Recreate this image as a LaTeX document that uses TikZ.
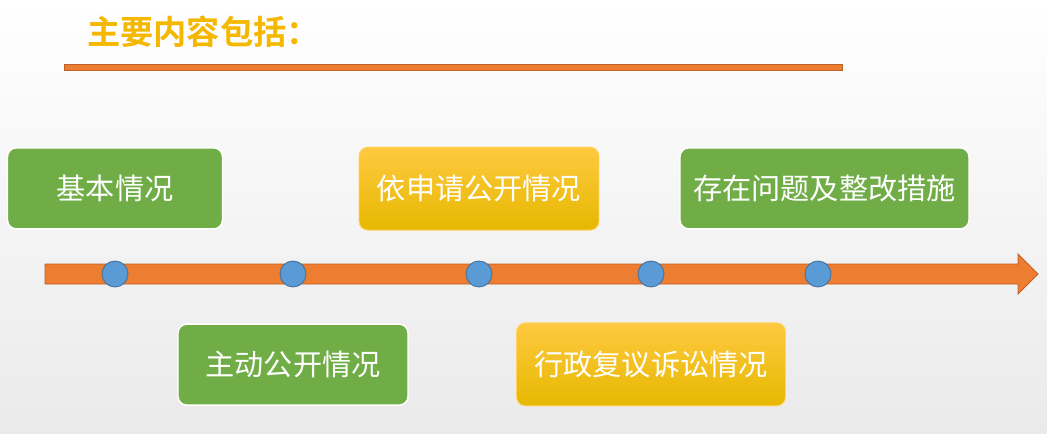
\documentclass[tikz,border=0pt]{standalone}
\usepackage{fontspec}
\newfontfamily\cjk{Noto Sans CJK SC}[BoldFont={Noto Sans CJK SC Bold}]
\usepackage{tikz}
\usetikzlibrary{positioning}
\definecolor{boxgreen}{RGB}{112,173,71}
\definecolor{boxyellowtop}{RGB}{255,201,64}
\definecolor{boxyellowmid}{RGB}{255,192,0}
\definecolor{boxyellowbot}{RGB}{230,184,0}
\definecolor{barorange}{RGB}{237,125,49}
\definecolor{barborder}{RGB}{190,95,35}
\definecolor{dotblue}{RGB}{91,155,213}
\definecolor{dotborder}{RGB}{65,113,156}
\definecolor{titleyellow}{RGB}{245,184,0}
\definecolor{bggray}{RGB}{234,234,234}

\begin{document}
\begin{tikzpicture}[
    x=0.02cm, y=-0.02cm,
    node distance = 0.62cm and 0.4cm,
    greenbox/.style = {
      draw=white, fill=boxgreen, rounded corners=5pt, line width=0.8pt,
      minimum height=1.62cm, align=center, text=white,
      font=\cjk\fontsize{16.6}{19}\selectfont
    },
    yellowbox/.style = {
      draw=boxyellowtop!80!white, rounded corners=5pt, line width=0.5pt,
      top color=boxyellowtop, middle color=boxyellowmid, bottom color=boxyellowbot,
      minimum height=1.66cm, align=center, text=white,
      font=\cjk\fontsize{16.6}{19}\selectfont
    },
    dot/.style = {
      circle, draw=dotborder, fill=dotblue, line width=0.5pt,
      minimum size=0.52cm, inner sep=0pt
    },
  ]
    % Background
    \shade[top color=white, bottom color=bggray] (0,0) rectangle (1047,433);
    \useasboundingbox (0,0) rectangle (1047,433);

    % Title and rule
    \node[anchor=west, inner sep=0pt, text=titleyellow,
      font=\cjk\bfseries\fontsize{18.9}{22}\selectfont] (title) at (87,32) {主要内容包括：};
    \draw[barborder, fill=barorange, line width=0.5pt] (64,64) rectangle (842,70);

    % Timeline arrow
    \draw[barborder, fill=barorange, line width=0.5pt]
      (45,264) -- (1018,264) -- (1018,254) -- (1038,274) -- (1018,294)
      -- (1018,284) -- (45,284) -- cycle;

    % Dots
    \node[dot] (d1) at (115,274) {};
    \node[dot] (d2) at (293,274) {};
    \node[dot] (d3) at (479,274) {};
    \node[dot] (d4) at (651,274) {};
    \node[dot] (d5) at (818,274) {};

    % Upper row
    \node[greenbox, minimum width=4.3cm, above=of d1] (basic) {基本情况};
    \node[yellowbox, minimum width=4.8cm, above=0.6cm of d3] (apply) {依申请公开情况};
    \node[greenbox, minimum width=5.78cm, above=of d5, xshift=0.13cm] (issue) {存在问题及整改措施};

    % Lower row
    \node[greenbox, minimum width=4.6cm, below=0.72cm of d2] (active) {主动公开情况};
    \node[yellowbox, minimum width=5.38cm, below=0.7cm of d4] (review) {行政复议诉讼情况};
  \end{tikzpicture}
\end{document}
